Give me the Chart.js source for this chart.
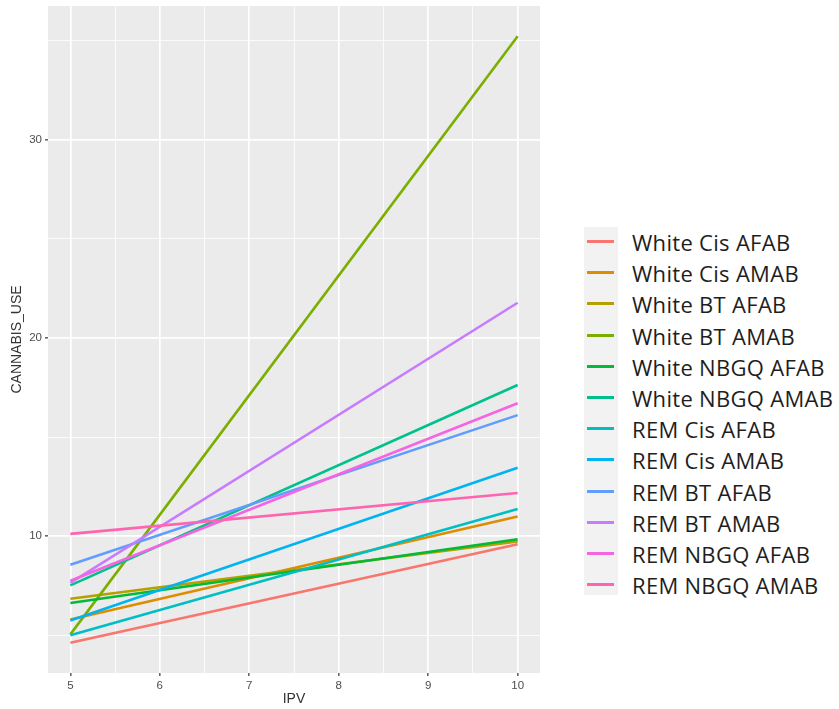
<!DOCTYPE html>
<html>
<head>
<meta charset="utf-8">
<script src="https://cdn.jsdelivr.net/npm/chart.js@4"></script>
<style>
  body { margin: 0; background: #fff; }
  #wrap { position: relative; width: 839px; height: 709px; }
  #plot { position: absolute; left: 0; top: 0; }
  #keyBg { position: absolute; left: 584px; top: 227px; width: 34px; height: 368px; background: #f2f2f2; }
  .row { position: absolute; left: 584px; height: 30px; }
  .row .key { position: absolute; left: 3px; top: 13px; width: 27px; height: 3px; }
  .row .lab { position: absolute; left: 48px; top: 0; line-height: 30px; font: 22px "Open Sans", sans-serif; letter-spacing: 0.3px; color: #1e1e1e; white-space: nowrap; }
</style>
</head>
<body>
<div id="wrap">
  <canvas id="plot" width="550" height="709"></canvas>
  <div id="keyBg"></div>
  <div id="legend"></div>
</div>
<script>
// groups, in legend order
const groups = ['White Cis AFAB', 'White Cis AMAB', 'White BT AFAB', 'White BT AMAB',
  'White NBGQ AFAB', 'White NBGQ AMAB', 'REM Cis AFAB', 'REM Cis AMAB',
  'REM BT AFAB', 'REM BT AMAB', 'REM NBGQ AFAB', 'REM NBGQ AMAB'];

const ipv = [5, 10];

// fitted CANNABIS_USE at IPV = 5 and IPV = 10
const whiteCisAfab = [4.63, 9.60];
const whiteCisAmab = [5.80, 11.00];
const whiteBtAfab = [6.85, 9.74];
const whiteBtAmab = [5.05, 35.22];
const whiteNbgqAfab = [6.63, 9.85];
const whiteNbgqAmab = [7.52, 17.63];
const remCisAfab = [5.00, 11.37];
const remCisAmab = [5.75, 13.45];
const remBtAfab = [8.56, 16.11];
const remBtAmab = [7.65, 21.78];
const remNbgqAfab = [7.75, 16.71];
const remNbgqAmab = [10.12, 12.18];

const series = [whiteCisAfab, whiteCisAmab, whiteBtAfab, whiteBtAmab, whiteNbgqAfab, whiteNbgqAmab,
  remCisAfab, remCisAmab, remBtAfab, remBtAmab, remNbgqAfab, remNbgqAmab];

const colors = ['#F8766D', '#DE8C00', '#B79F00', '#7CAE00', '#00BA38', '#00C08B',
  '#00BFC4', '#00B4F0', '#619CFF', '#C77CFF', '#F564E3', '#FF64B0'];

const xMajor = [5, 6, 7, 8, 9, 10];
const xMinor = [5.5, 6.5, 7.5, 8.5, 9.5];
const yMajor = [10, 20, 30];
const yMinor = [5, 15, 25, 35];

const isMajor = (list, v) => list.some(m => Math.abs(m - v) < 1e-9);

// grey panel behind the grid
const panel = {
  id: 'panel',
  beforeDraw(chart) {
    const a = chart.chartArea;
    const c = chart.ctx;
    c.save();
    c.fillStyle = '#ebebeb';
    c.fillRect(a.left, a.top, a.right - a.left, a.bottom - a.top);
    c.restore();
  }
};

function gridFor(major) {
  return {
    color: '#ffffff',
    lineWidth: ctx => isMajor(major, ctx.tick.value) ? 1.7 : 0.8,
    tickColor: ctx => isMajor(major, ctx.tick.value) ? '#333333' : 'rgba(0,0,0,0)',
    tickLength: 3,
    tickWidth: 1.2
  };
}

const datasets = groups.map((g, i) => ({
  label: g,
  data: ipv.map((x, j) => ({ x: x, y: series[i][j] })),
  borderColor: colors[i],
  backgroundColor: colors[i],
  borderWidth: 2.6,
  pointRadius: 0,
  tension: 0,
  order: groups.length - i
}));

new Chart(document.getElementById('plot'), {
  type: 'line',
  data: { datasets: datasets },
  options: {
    responsive: false,
    animation: false,
    layout: { padding: { top: 6, right: 10, left: 0, bottom: 0 } },
    plugins: { legend: { display: false }, tooltip: { enabled: false } },
    scales: {
      x: {
        type: 'linear',
        min: 4.75,
        max: 10.25,
        afterBuildTicks: s => { s.ticks = xMajor.concat(xMinor).sort((a, b) => a - b).map(v => ({ value: v })); },
        afterFit: s => { s.height = 36; s.paddingLeft = 0; s.paddingRight = 0; },
        grid: gridFor(xMajor),
        border: { display: false },
        ticks: {
          autoSkip: false,
          maxRotation: 0,
          padding: 3,
          color: '#4d4d4d',
          font: { family: 'Liberation Sans', size: 11.5 },
          callback: v => isMajor(xMajor, v) ? String(v) : ''
        },
        title: {
          display: true,
          text: 'IPV',
          color: '#333333',
          padding: { top: 0, bottom: 1 },
          font: { family: 'Liberation Sans', size: 14 }
        }
      },
      y: {
        type: 'linear',
        min: 3.10,
        max: 36.75,
        afterBuildTicks: s => { s.ticks = yMajor.concat(yMinor).sort((a, b) => a - b).map(v => ({ value: v })); },
        afterFit: s => { s.width = 48; s.paddingTop = 0; s.paddingBottom = 0; },
        grid: gridFor(yMajor),
        border: { display: false },
        ticks: {
          autoSkip: false,
          padding: 3,
          color: '#4d4d4d',
          font: { family: 'Liberation Sans', size: 11.5 },
          callback: v => isMajor(yMajor, v) ? String(v) : ''
        },
        title: {
          display: true,
          text: 'CANNABIS_USE',
          color: '#333333',
          padding: { top: 9, bottom: 0 },
          font: { family: 'Liberation Sans', size: 14 }
        }
      }
    }
  },
  plugins: [panel]
});

// legend rows
const legend = document.getElementById('legend');
groups.forEach((g, i) => {
  const row = document.createElement('div');
  row.className = 'row';
  row.style.top = (242 + i * 31.2 - 15) + 'px';
  const key = document.createElement('div');
  key.className = 'key';
  key.style.background = colors[i];
  const lab = document.createElement('div');
  lab.className = 'lab';
  lab.textContent = g;
  row.appendChild(key);
  row.appendChild(lab);
  legend.appendChild(row);
});
</script>
</body>
</html>
